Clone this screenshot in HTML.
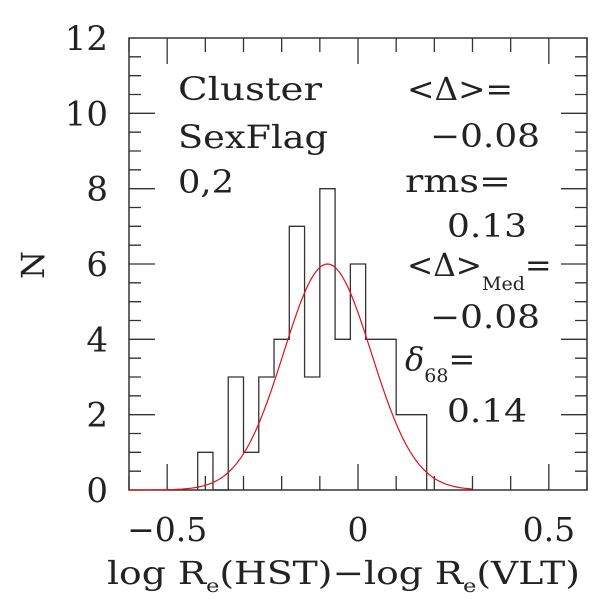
<!DOCTYPE html>
<html><head><meta charset="utf-8"><style>
body{margin:0;background:#fff}
svg text{font-family:"DejaVu Serif","Liberation Serif",serif;fill:#222}
</style></head><body>
<svg width="600" height="600" viewBox="0 0 600 600">
<g id="axes"></g>
<g id="bars"></g>
<path id="gauss" fill="none" stroke="#e0101a" stroke-width="1.2"/>
<g font-size="32">
<text x="178" y="100" textLength="144" lengthAdjust="spacingAndGlyphs">Cluster</text>
<text x="178" y="148" textLength="150" lengthAdjust="spacingAndGlyphs">SexFlag</text>
<text x="178" y="193" textLength="56" lengthAdjust="spacingAndGlyphs">0,2</text>
<text x="407" y="100" textLength="106" lengthAdjust="spacingAndGlyphs">&lt;Δ&gt;=</text>
<text x="430" y="147" textLength="110" lengthAdjust="spacingAndGlyphs">−0.08</text>
<text x="405" y="192" textLength="106" lengthAdjust="spacingAndGlyphs">rms=</text>
<text x="447" y="237" textLength="80" lengthAdjust="spacingAndGlyphs">0.13</text>
<text x="407" y="276"><tspan textLength="75" lengthAdjust="spacingAndGlyphs">&lt;Δ&gt;</tspan><tspan font-size="19" dy="14">Med</tspan><tspan dy="-14">=</tspan></text>
<text x="430" y="328" textLength="110" lengthAdjust="spacingAndGlyphs">−0.08</text>
<text x="405" y="370"><tspan font-style="italic">δ</tspan><tspan font-size="19" dy="12">68</tspan><tspan dy="-12">=</tspan></text>
<text x="447" y="422" textLength="80" lengthAdjust="spacingAndGlyphs">0.14</text>
</g>
<text x="107" y="584" font-size="32" textLength="473" lengthAdjust="spacingAndGlyphs">log R<tspan font-size="19" dy="8">e</tspan><tspan dy="-8">(HST)−log R</tspan><tspan font-size="19" dy="8">e</tspan><tspan dy="-8">(VLT)</tspan></text>
<text transform="translate(44,265) rotate(-90)" font-size="32" text-anchor="middle">N</text>
</svg>
<script>
const binEdgesStart = -0.42;
const binWidth = 0.04;
const counts = [1,0,3,1,3,4,7,3,8,4,6,4,4,2,2];
const fitMean = -0.08, fitPeak = 6, fitSigma = 0.115;
const xTicks = [-0.5,0,0.5];
const xTickLabels = ["−0.5","0","0.5"];
const yTicks = [0,2,4,6,8,10,12];
const L=129,R=587,T=38,B=490;
const X=v=>L+(v+0.6)/1.2*(R-L);
const Y=v=>B-v/12*(B-T);
const NS="http://www.w3.org/2000/svg";
function mk(tag,attrs,parent){const e=document.createElementNS(NS,tag);for(const k in attrs)e.setAttribute(k,attrs[k]);parent.appendChild(e);return e;}
const ax=document.getElementById('axes');
const frame=mk('rect',{x:L,y:T,width:R-L,height:B-T,fill:'none',stroke:'#333','stroke-width':1.5},ax);


let d='';
for(let i=-6;i<=6;i++){const x=X(i/10);const len=(i%5===0)?26:14;d+=`M${x},${B}v${-len}M${x},${T}v${len}`;}
for(let j=1;j<24;j++){const y=Y(j/2);const len=(j%4===0)?26:12;d+=`M${L},${y}h${len}M${R},${y}h${-len}`;}
const tk=mk('path',{d:d,stroke:'#333','stroke-width':1.3,fill:'none'},ax);


xTicks.forEach((v,i)=>{const t=mk('text',{x:X(v),y:541,'font-size':33,'text-anchor':'middle'},ax);t.textContent=xTickLabels[i];

});
yTicks.forEach(v=>{const t=mk('text',{x:108,y:Y(v)+12,'font-size':34,'text-anchor':'end'},ax);t.textContent=v;

});
const bg=document.getElementById('bars');
let h=`M${X(binEdgesStart)},${Y(0)}`;
counts.forEach((c,i)=>{const x0=X(binEdgesStart+i*binWidth),x1=X(binEdgesStart+(i+1)*binWidth);h+=`L${x0},${Y(c)}L${x1},${Y(c)}`;});
h+=`L${X(binEdgesStart+counts.length*binWidth)},${Y(0)}`;
const hp=mk('path',{d:h,fill:'none',stroke:'#333','stroke-width':1.3},bg);


let g='';
for(let v=-0.6;v<=0.3001;v+=0.005){const y=fitPeak*Math.exp(-0.5*((v-fitMean)/fitSigma)**2);g+=(g?'L':'M')+X(v).toFixed(2)+','+Y(y).toFixed(2);}
document.getElementById('gauss').setAttribute('d',g);
</script>
</body></html>
